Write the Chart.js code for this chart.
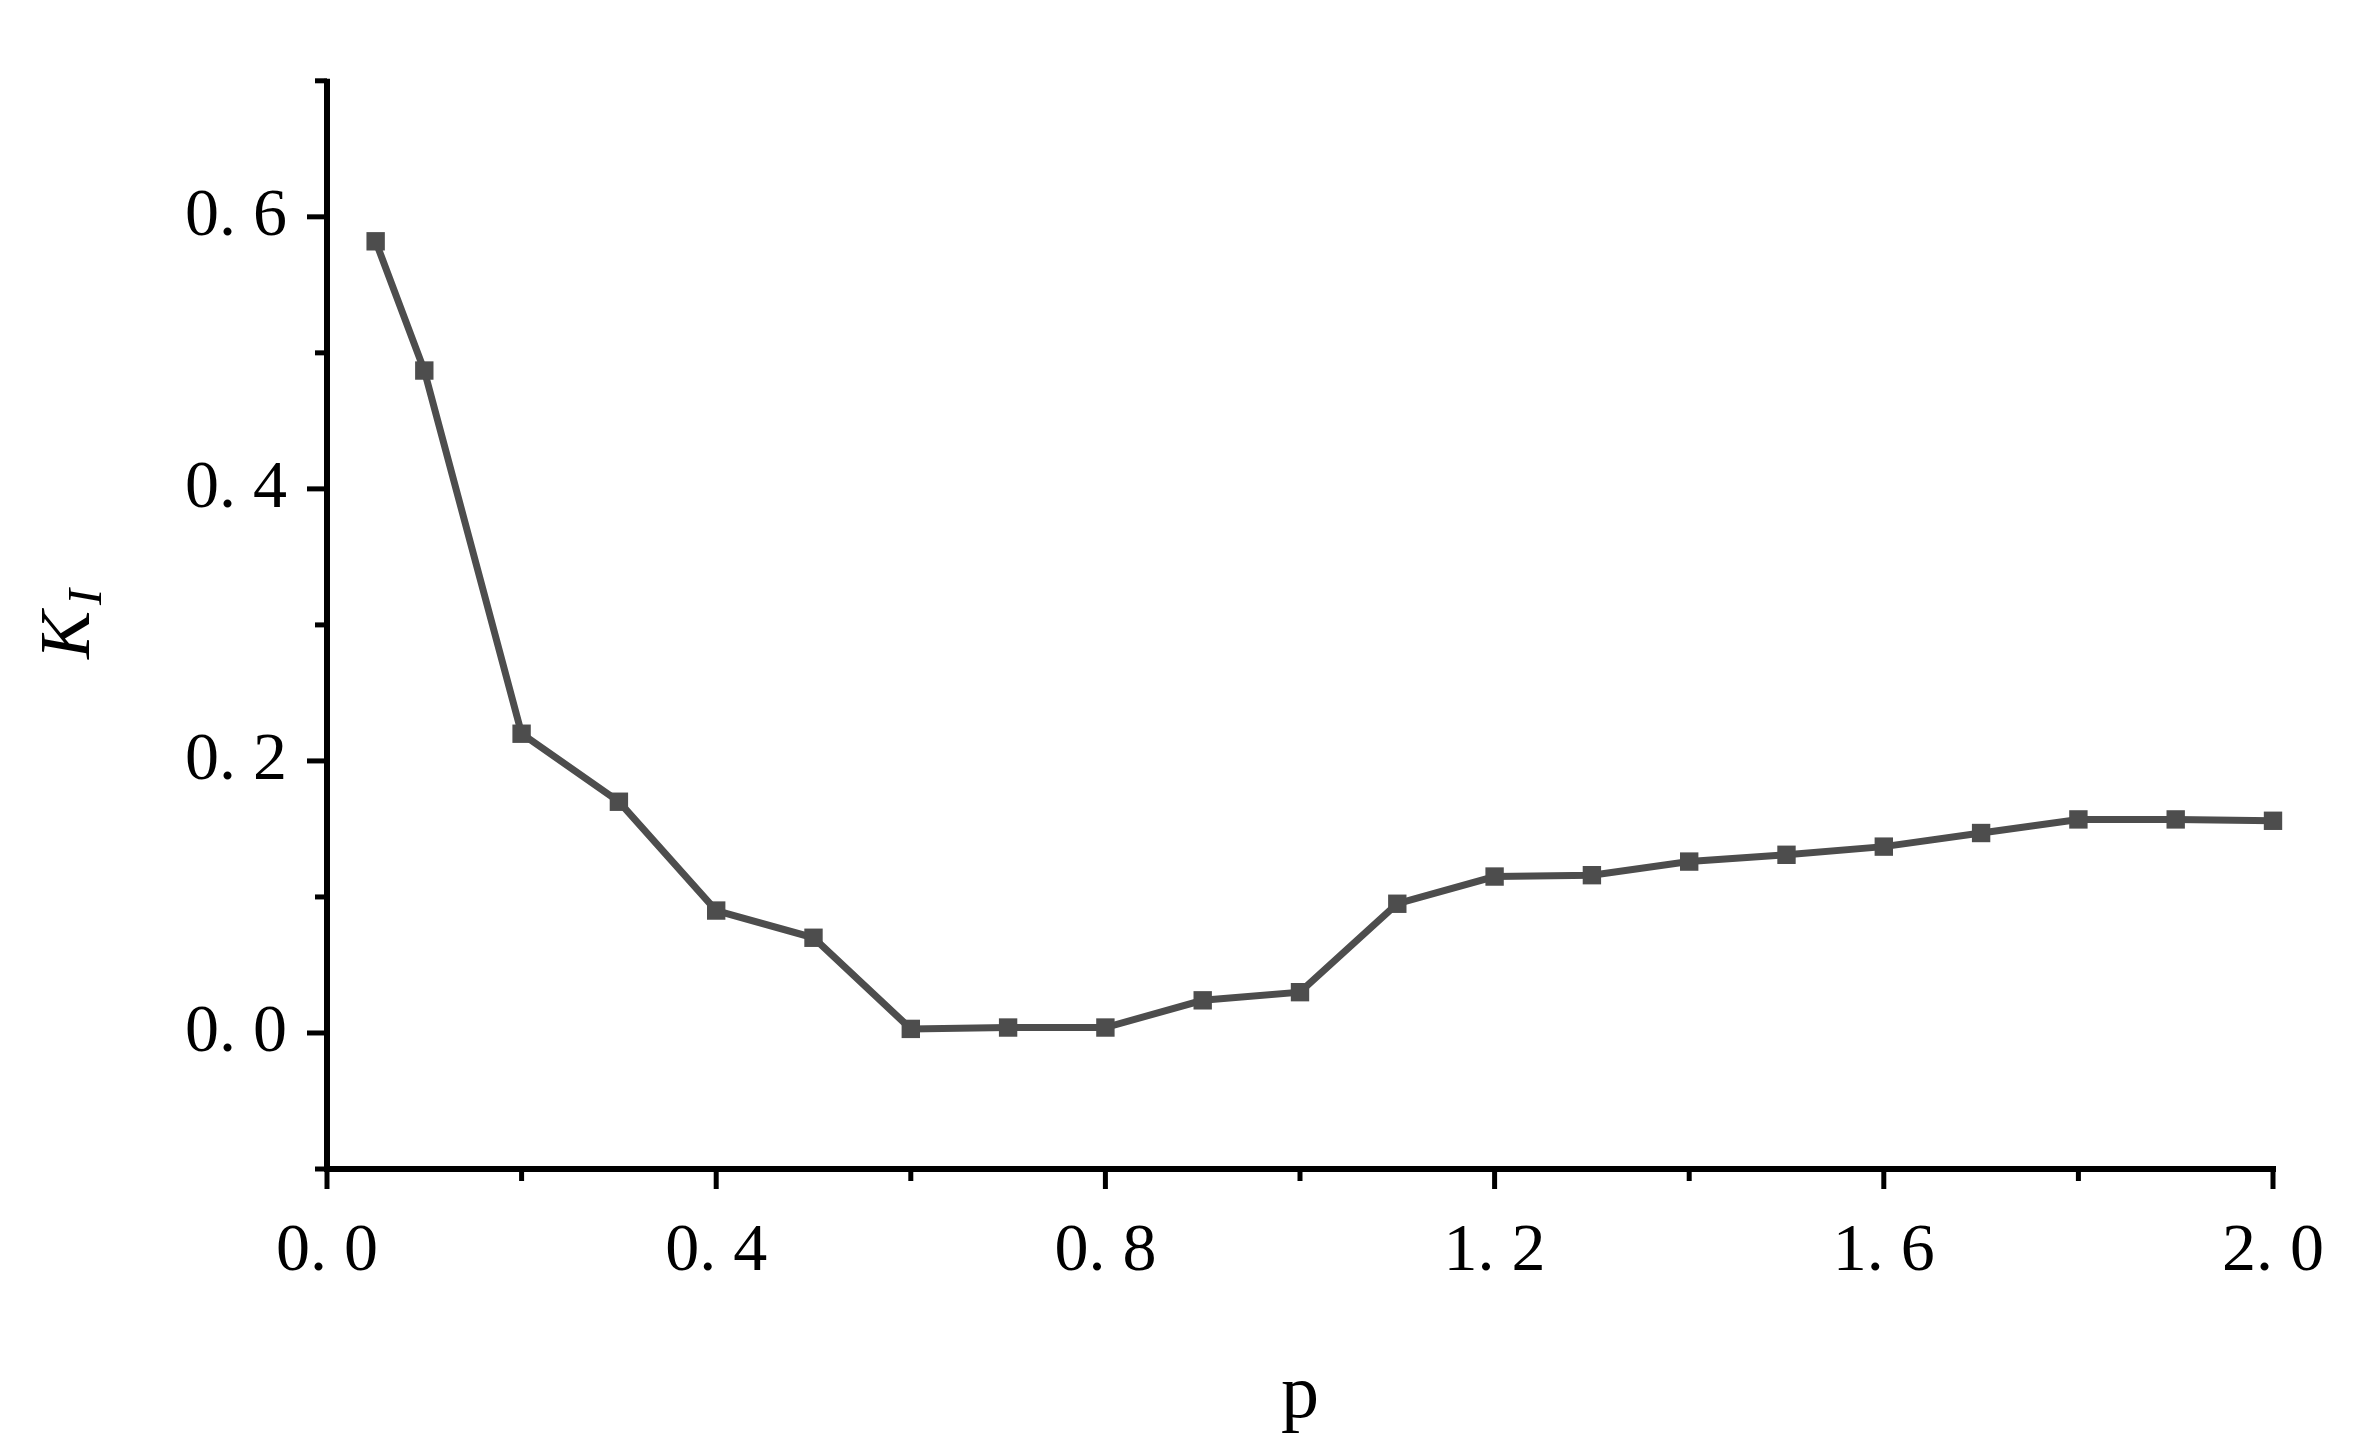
<!DOCTYPE html>
<html><head><meta charset="utf-8">
<script src="https://cdn.jsdelivr.net/npm/chart.js@4"></script>
<style>html,body{margin:0;background:#fff}#w{width:2366px;height:1443px}</style>
</head><body><div id="w"><canvas id="c"></canvas></div>
<script>
const pValues = [0.05,0.1,0.2,0.3,0.4,0.5,0.6,0.7,0.8,0.9,1.0,1.1,1.2,1.3,1.4,1.5,1.6,1.7,1.8,1.9,2.0];
const kiValues = [0.582,0.487,0.220,0.170,0.090,0.070,0.003,0.004,0.004,0.024,0.030,0.095,0.115,0.116,0.126,0.131,0.137,0.147,0.157,0.157,0.156];
const xTicks = [0,0.2,0.4,0.6,0.8,1.0,1.2,1.4,1.6,1.8,2.0];
const yTicks = [-0.1,0,0.1,0.2,0.3,0.4,0.5,0.6,0.7];
const SERIF = '"Liberation Serif","DejaVu Serif",serif';
const fmt = v => v.toFixed(1).replace('.', '. ');
const near = (v, s) => Math.abs(v/s - Math.round(v/s)) < 1e-6;

const tickPlugin = {
  id:'ticks',
  afterDraw(ch){
    const c = ch.ctx, x = ch.scales.x, y = ch.scales.y, a = ch.chartArea;
    c.save(); c.strokeStyle='#000'; c.lineWidth=6;
    c.beginPath(); c.moveTo(a.left, a.top-2); c.lineTo(a.left, a.bottom); c.lineTo(a.right+3, a.bottom); c.stroke();
    c.lineWidth=5;
    xTicks.forEach(v=>{const px=x.getPixelForValue(v); const L=near(v,0.4)?20:12;
      c.beginPath(); c.moveTo(px,a.bottom); c.lineTo(px,a.bottom+L); c.stroke();});
    yTicks.forEach(v=>{const py=y.getPixelForValue(v); const L=near(v,0.2)?20:12;
      c.beginPath(); c.moveTo(a.left,py); c.lineTo(a.left-L,py); c.stroke();});
    // y title K_I
    c.fillStyle='#000'; c.translate(70,(a.top+a.bottom)/2); c.rotate(-Math.PI/2);
    c.textAlign='center'; c.textBaseline='middle';
    c.font='italic 72px '+SERIF; c.fillText('K', -10, 0);
    c.font='italic 48px '+SERIF; c.fillText('I', 28, 18);
    c.restore();
  }
};

new Chart(document.getElementById('c'), {
  type:'line',
  data:{datasets:[{data:pValues.map((p,i)=>({x:p,y:kiValues[i]})),
    borderColor:'#4d4d4d', backgroundColor:'#4d4d4d', borderWidth:7,
    pointStyle:'rect', pointRadius:13, pointBorderWidth:0, clip:false, tension:0}]},
  options:{
    responsive:true, maintainAspectRatio:false, animation:false,
    layout:{padding:{left:0,top:35,right:78,bottom:0}},
    plugins:{legend:{display:false},tooltip:{enabled:false}},
    scales:{
      x:{type:'linear',min:0,max:2,border:{display:false},
        grid:{display:false,drawTicks:false},
        afterBuildTicks:s=>{s.ticks=xTicks.map(v=>({value:v}));},
        afterFit:s=>{s.height=274;},
        ticks:{color:'#000',font:{family:SERIF,size:68},padding:42,maxRotation:0,autoSkip:false,
          callback:v=>near(v,0.4)?fmt(v):''},
        title:{display:true,text:'p',color:'#000',font:{family:SERIF,size:76},padding:{top:20,bottom:0}}},
      y:{type:'linear',min:-0.1,max:0.7,border:{display:false},
        grid:{display:false,drawTicks:false},
        afterBuildTicks:s=>{s.ticks=yTicks.map(v=>({value:v}));},
        afterFit:s=>{s.width=327;},
        ticks:{color:'#000',font:{family:SERIF,size:68},padding:40,autoSkip:false,
          callback:v=>(near(v,0.2)&&v>=0)?fmt(v):''}}
    }
  },
  plugins:[tickPlugin]
});
</script></body></html>
